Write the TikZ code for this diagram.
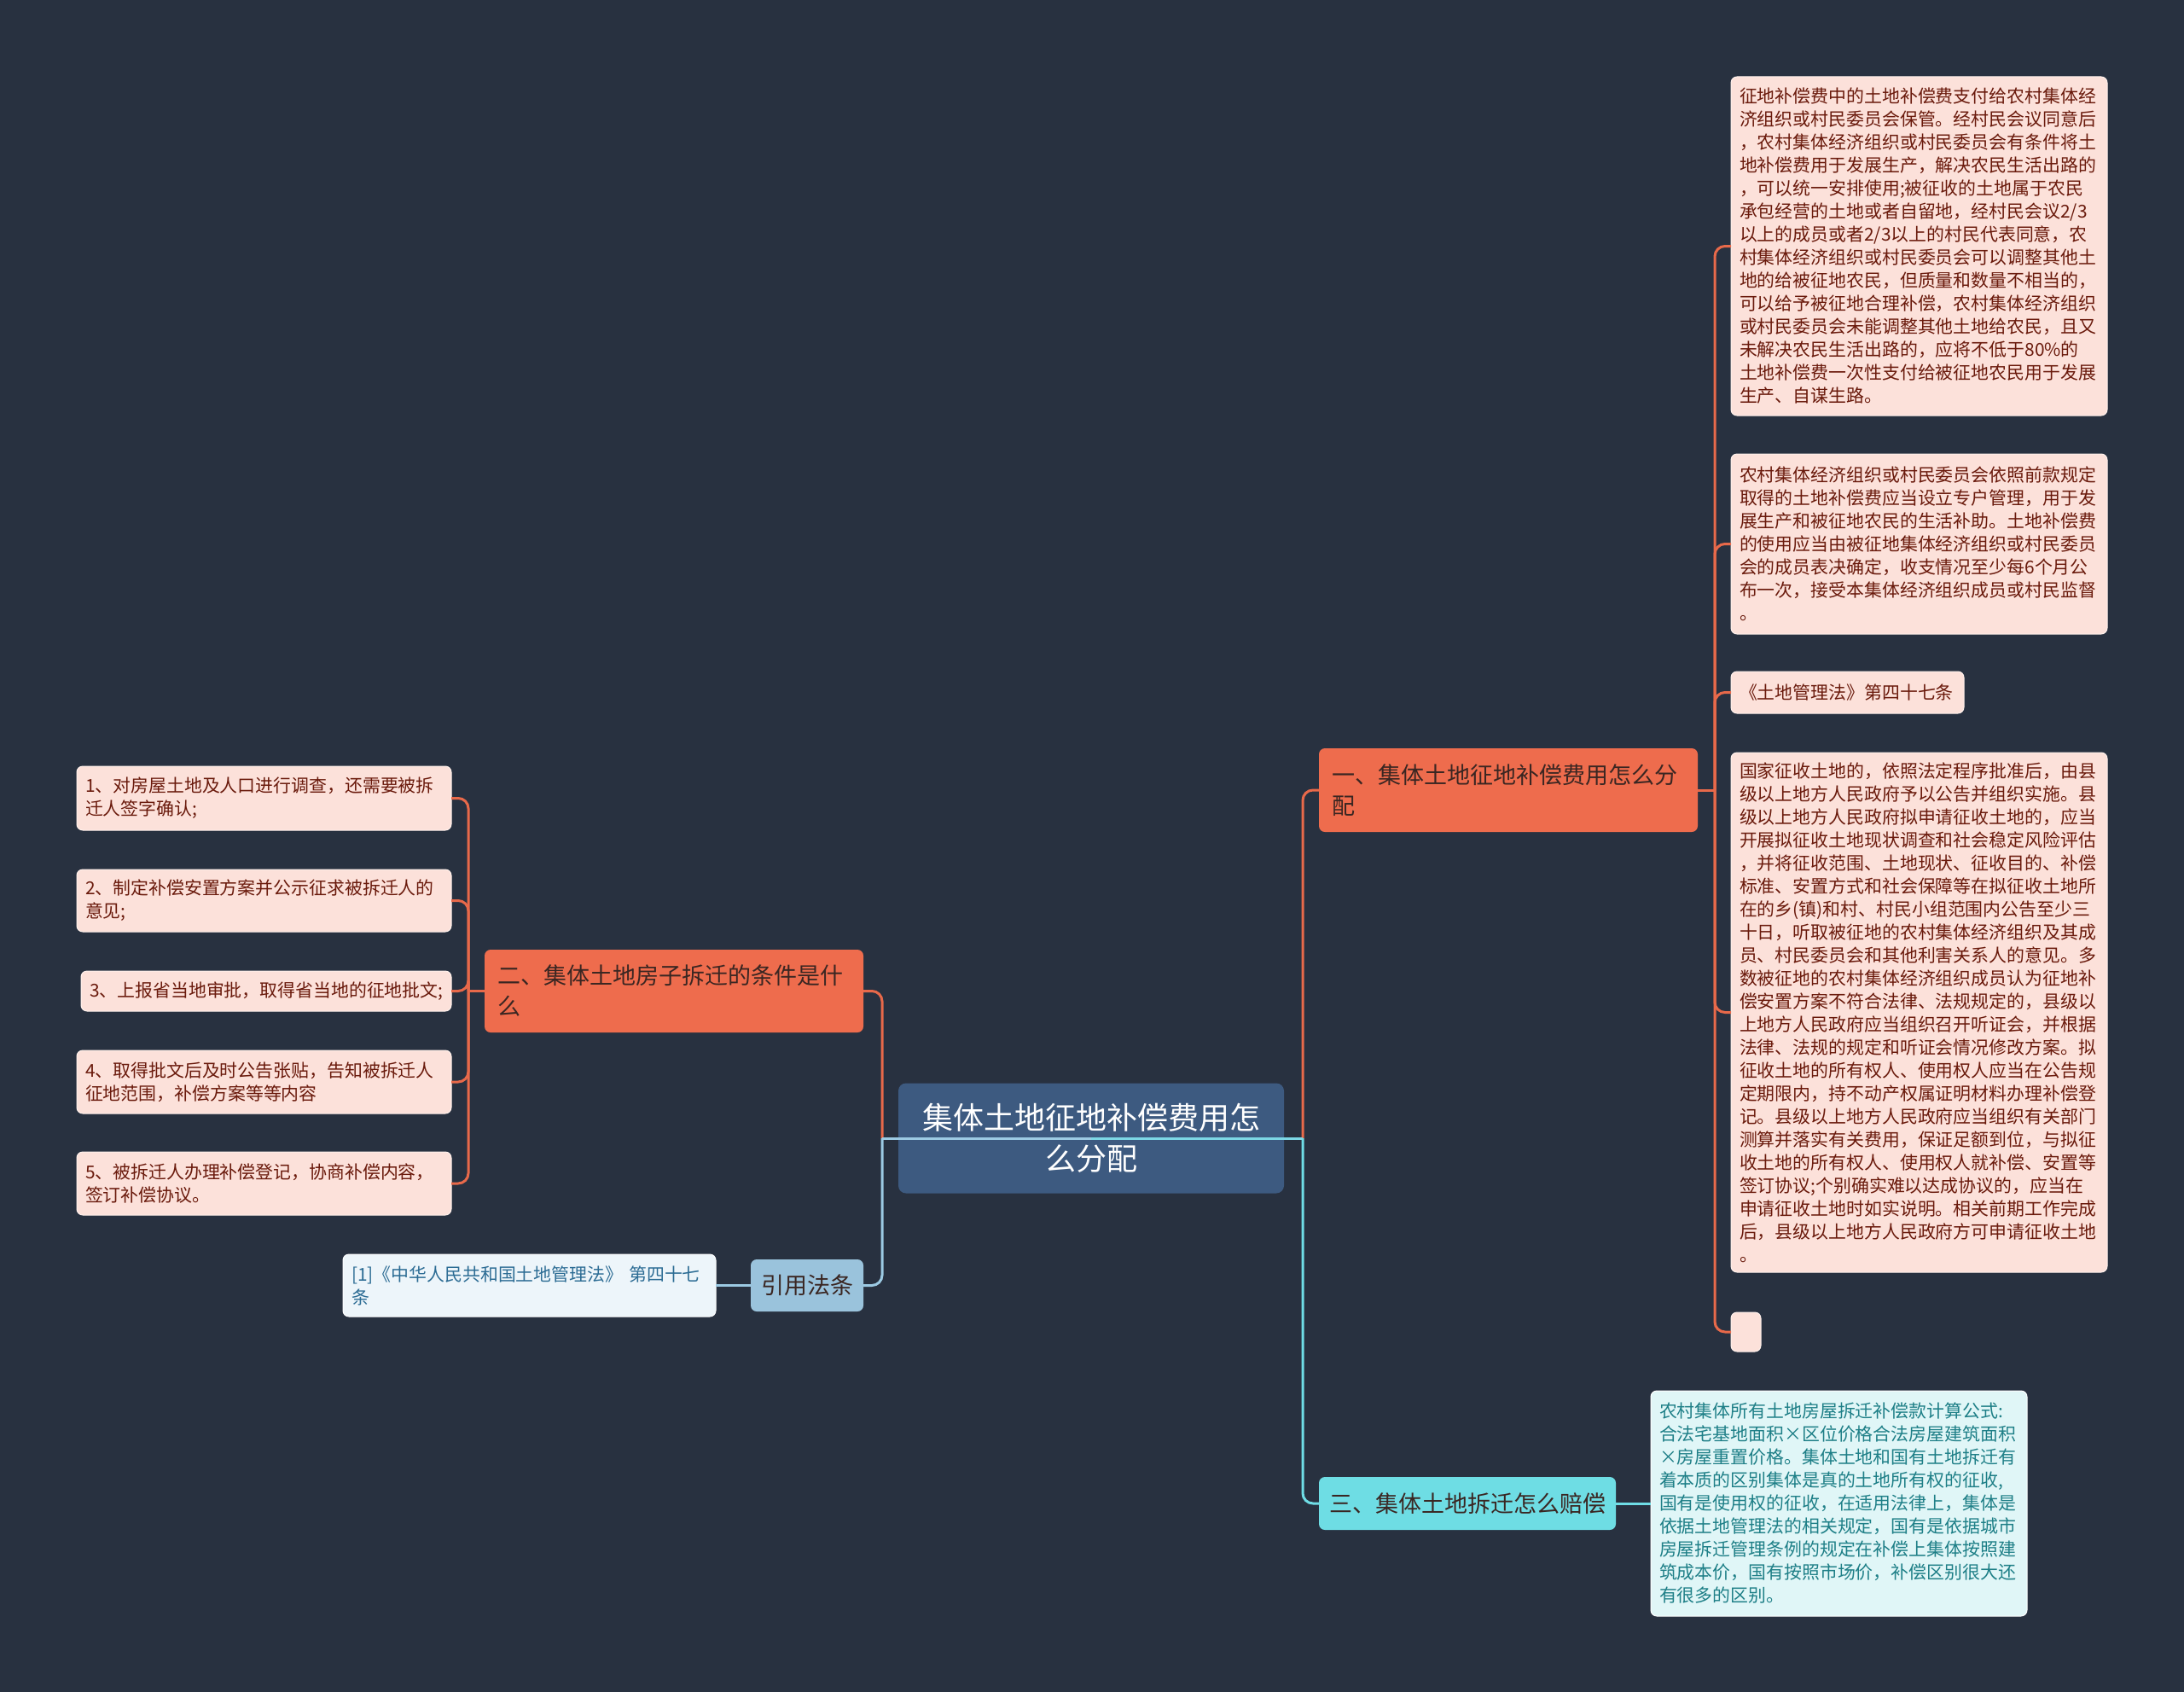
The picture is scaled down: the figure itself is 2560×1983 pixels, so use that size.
\documentclass[tikz,border=0pt]{standalone}
\usepackage{fontspec}
\setmainfont{Noto Sans CJK SC}
\definecolor{bg}{HTML}{283140}
\definecolor{orangeN}{HTML}{EE6C4D}
\definecolor{orangeL}{HTML}{E8694A}
\definecolor{pinkF}{HTML}{FCE1DA}
\definecolor{pinkB}{HTML}{FFF1EC}
\definecolor{pinkT}{HTML}{6A1A0C}
\definecolor{rootF}{HTML}{3D5A80}
\definecolor{cyanN}{HTML}{6EDDE4}
\definecolor{cyanL}{HTML}{6FDDE6}
\definecolor{cyanF}{HTML}{E0F6F7}
\definecolor{cyanT}{HTML}{1E7F87}
\definecolor{blueN}{HTML}{9AC3DC}
\definecolor{blueL}{HTML}{9CCAE3}
\definecolor{blueF}{HTML}{EDF5FA}
\definecolor{blueT}{HTML}{2C6C94}
\definecolor{darkT}{HTML}{3A2622}
\begin{document}
\begin{tikzpicture}[x=1pt,y=-1pt,
  box/.style={rounded corners=7pt, anchor=north west, inner xsep=12pt, inner ysep=0pt, outer sep=0pt},
  rootS/.style={rounded corners=9pt, fill=rootF, text=white, align=center, inner sep=0pt, outer sep=0pt,
    font=\fontsize{36}{48}\selectfont},
  branchO/.style={box, fill=orangeN, text=darkT, align=left, inner xsep=15pt, font=\fontsize{27}{36}\selectfont},
  branchC/.style={box, fill=cyanN, text=darkT, align=left, font=\fontsize{27}{36}\selectfont},
  branchB/.style={box, fill=blueN, text=darkT, align=center, font=\fontsize{27}{36}\selectfont},
  leafP/.style={box, fill=pinkF, draw=pinkB, line width=1pt, text=pinkT, align=left, inner xsep=10pt, font=\fontsize{20.9}{27}\selectfont},
  leafC/.style={box, fill=cyanF, draw=white, line width=1pt, text=cyanT, align=left, inner xsep=10pt, font=\fontsize{20.9}{27}\selectfont},
  leafB/.style={box, fill=blueF, draw=white, line width=1pt, text=blueT, align=left, inner xsep=10pt, font=\fontsize{20.9}{27}\selectfont},
  conn/.style={line width=3pt},
  rc/.style={rounded corners=12pt}
]
\useasboundingbox (0,0) rectangle (2560,1983);
\fill[bg] (0,0) rectangle (2560,1983);

% ---------- nodes ----------
\node[rootS, minimum width=452pt, minimum height=129pt] (root) at (1279,1334) {集体土地征地补偿费用怎\\么分配};

\node[branchO, minimum width=444pt, minimum height=98pt, text width=414pt] (b1) at (1546,877) {一、集体土地征地补偿费用怎么分\\配};
\node[branchO, minimum width=444pt, minimum height=97pt, text width=414pt] (b2) at (568,1113) {二、集体土地房子拆迁的条件是什\\么};
\node[branchC, minimum width=348pt, minimum height=62pt, text width=324pt] (b3) at (1546,1731) {三、集体土地拆迁怎么赔偿};
\node[branchB, minimum width=132pt, minimum height=61pt] (cite) at (880,1476) {引用法条};

\node[leafP, minimum width=441pt, minimum height=397pt, text width=421pt] (L1) at (2029,90) {征地补偿费中的土地补偿费支付给农村集体经\\济组织或村民委员会保管。经村民会议同意后\\，农村集体经济组织或村民委员会有条件将土\\地补偿费用于发展生产，解决农民生活出路的\\，可以统一安排使用;被征收的土地属于农民\\承包经营的土地或者自留地，经村民会议2/3\\以上的成员或者2/3以上的村民代表同意，农\\村集体经济组织或村民委员会可以调整其他土\\地的给被征地农民，但质量和数量不相当的，\\可以给予被征地合理补偿，农村集体经济组织\\或村民委员会未能调整其他土地给农民，且又\\未解决农民生活出路的，应将不低于80\%的\\土地补偿费一次性支付给被征地农民用于发展\\生产、自谋生路。};
\node[leafP, minimum width=441pt, minimum height=211pt, text width=421pt] (L2) at (2029,532) {农村集体经济组织或村民委员会依照前款规定\\取得的土地补偿费应当设立专户管理，用于发\\展生产和被征地农民的生活补助。土地补偿费\\的使用应当由被征地集体经济组织或村民委员\\会的成员表决确定，收支情况至少每6个月公\\布一次，接受本集体经济组织成员或村民监督\\。};
\node[leafP, minimum width=273pt, minimum height=49pt, text width=253pt] (L3) at (2029,787) {《土地管理法》第四十七条};
\node[leafP, minimum width=441pt, minimum height=609pt, text width=421pt] (L4) at (2029,882) {国家征收土地的，依照法定程序批准后，由县\\级以上地方人民政府予以公告并组织实施。县\\级以上地方人民政府拟申请征收土地的，应当\\开展拟征收土地现状调查和社会稳定风险评估\\，并将征收范围、土地现状、征收目的、补偿\\标准、安置方式和社会保障等在拟征收土地所\\在的乡(镇)和村、村民小组范围内公告至少三\\十日，听取被征地的农村集体经济组织及其成\\员、村民委员会和其他利害关系人的意见。多\\数被征地的农村集体经济组织成员认为征地补\\偿安置方案不符合法律、法规规定的，县级以\\上地方人民政府应当组织召开听证会，并根据\\法律、法规的规定和听证会情况修改方案。拟\\征收土地的所有权人、使用权人应当在公告规\\定期限内，持不动产权属证明材料办理补偿登\\记。县级以上地方人民政府应当组织有关部门\\测算并落实有关费用，保证足额到位，与拟征\\收土地的所有权人、使用权人就补偿、安置等\\签订协议;个别确实难以达成协议的，应当在\\申请征收土地时如实说明。相关前期工作完成\\后，县级以上地方人民政府方可申请征收土地\\。};
\node[leafP, minimum width=35pt, minimum height=46pt] (L5) at (2029,1538) {};

\node[leafC, minimum width=441pt, minimum height=264pt, text width=421pt] (r3) at (1935,1630) {农村集体所有土地房屋拆迁补偿款计算公式:\\合法宅基地面积×区位价格合法房屋建筑面积\\×房屋重置价格。集体土地和国有土地拆迁有\\着本质的区别集体是真的土地所有权的征收,\\国有是使用权的征收，在适用法律上，集体是\\依据土地管理法的相关规定，国有是依据城市\\房屋拆迁管理条例的规定在补偿上集体按照建\\筑成本价，国有按照市场价，补偿区别很大还\\有很多的区别。};

\node[leafP, minimum width=439pt, minimum height=75pt, text width=419pt] (LL1) at (90,898) {1、对房屋土地及人口进行调查，还需要被拆\\迁人签字确认;};
\node[leafP, minimum width=439pt, minimum height=73pt, text width=419pt] (LL2) at (90,1019) {2、制定补偿安置方案并公示征求被拆迁人的\\意见;};
\node[leafP, minimum width=434pt, minimum height=47pt, text width=414pt] (LL3) at (95,1138) {3、上报省当地审批，取得省当地的征地批文;};
\node[leafP, minimum width=439pt, minimum height=74pt, text width=419pt] (LL4) at (90,1231) {4、取得批文后及时公告张贴，告知被拆迁人\\征地范围，补偿方案等等内容};
\node[leafP, minimum width=439pt, minimum height=74pt, text width=419pt] (LL5) at (90,1350) {5、被拆迁人办理补偿登记，协商补偿内容，\\签订补偿协议。};

\node[leafB, minimum width=437pt, minimum height=73pt, text width=417pt] (citeL) at (402,1470) {[1]《中华人民共和国土地管理法》 第四十七\\条};

% ---------- connectors ----------
\coordinate (tR) at (1527,1334);
\coordinate (tL) at (1034,1334);
\coordinate (t1) at (2010,926);
\coordinate (t2) at (549,1161.5);

\draw[conn,orangeL,rc] (tR) |- (b1.west);
\draw[conn,cyanL,rc] (tR) |- (b3.west);
\draw[conn,cyanL] (b3.east) -- (r3.west);

\draw[conn,orangeL,rc] (tL) |- (b2.east);
\draw[conn,blueL,rc] (tL) |- (cite.east);
\draw[conn,blueL] (cite.west) -- (citeL.east);

\draw[conn,orangeL] (b1.east) -- (t1);
\foreach \n in {L1,L2,L3,L4,L5} \draw[conn,orangeL,rc] (t1) |- (\n.west);

\draw[conn,orangeL] (b2.west) -- (t2);
\foreach \n in {LL1,LL2,LL3,LL4,LL5} \draw[conn,orangeL,rc] (t2) |- (\n.east);

\draw[conn,blueL] (root.center) -- (tL);
\draw[conn,cyanL!70!blueL] (root.center) -- (tR);
\end{tikzpicture}
\end{document}
